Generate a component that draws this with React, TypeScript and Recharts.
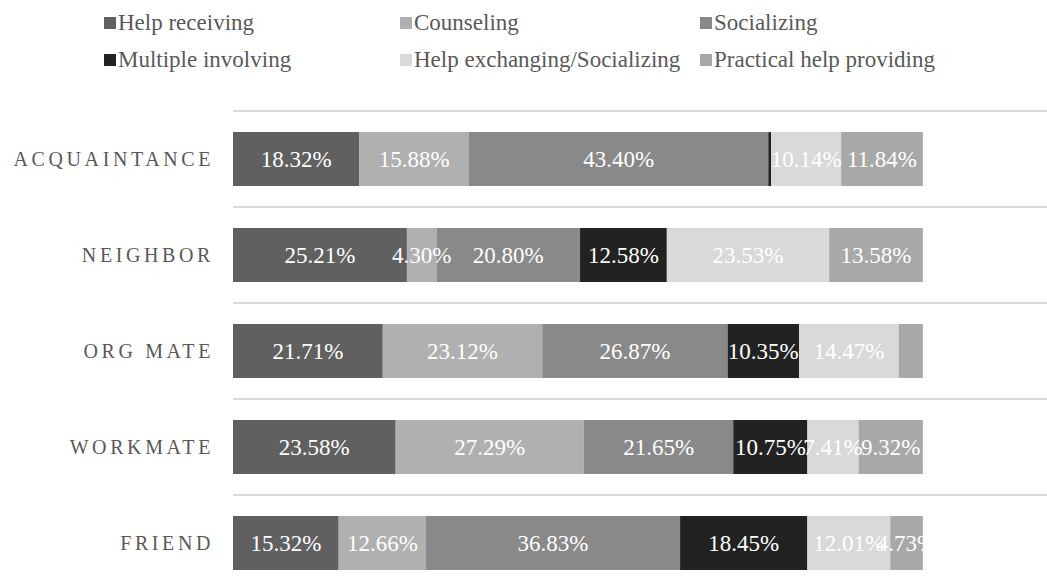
import React from 'react';
import { BarChart, Bar, XAxis, YAxis, CartesianGrid, LabelList } from 'recharts';

const categories = ['ACQUAINTANCE', 'NEIGHBOR', 'ORG MATE', 'WORKMATE', 'FRIEND'];
const helpReceiving = [18.32, 25.21, 21.71, 23.58, 15.32];
const counseling = [15.88, 4.3, 23.12, 27.29, 12.66];
const socializing = [43.4, 20.8, 26.87, 21.65, 36.83];
const multipleInvolving = [0.42, 12.58, 10.35, 10.75, 18.45];
const helpExchanging = [10.14, 23.53, 14.47, 7.41, 12.01];
const practicalHelp = [11.84, 13.58, 3.48, 9.32, 4.73];

const seriesNames = [
  'Help receiving',
  'Counseling',
  'Socializing',
  'Multiple involving',
  'Help exchanging/Socializing',
  'Practical help providing',
];
const seriesValues = [helpReceiving, counseling, socializing, multipleInvolving, helpExchanging, practicalHelp];
const colors = ['#606060', '#b0b0b0', '#898989', '#222222', '#d9d9d9', '#a8a8a8'];
const keys = ['s0', 's1', 's2', 's3', 's4', 's5'];

const data = categories.map((c, i) => {
  const row: any = { name: c };
  keys.forEach((k, j) => {
    row[k] = seriesValues[j][i];
  });
  return row;
});

const FONT = "'Liberation Serif', 'Times New Roman', serif";

// grid lines at category band boundaries
const bandBoundaries = ({ offset }: any) =>
  Array.from({ length: categories.length + 1 }, (_, t) => offset.top + (offset.height * t) / categories.length);

const renderLabel = (props: any) => {
  const { x, y, width, height, value } = props;
  if (value == null || value < 4) return null;
  return (
    <text
      x={Number(x) + Number(width) / 2}
      y={Number(y) + Number(height) / 2}
      textAnchor="middle"
      dominantBaseline="central"
      fill="#ffffff"
      fontFamily="Liberation Serif"
      style={{ fontFamily: FONT }}
      fontSize={23}
    >
      {Number(value).toFixed(2) + '%'}
    </text>
  );
};

const legendCols = [104, 400, 700];

export default function App() {
  return (
    <div style={{ position: 'absolute', left: 0, top: 0, width: 1047, height: 600, background: '#fff' }}>
      {seriesNames.map((n, i) => (
        <div
          key={n}
          style={{
            position: 'absolute',
            left: legendCols[i % 3],
            top: i < 3 ? 10 : 47,
            display: 'flex',
            alignItems: 'center',
            fontFamily: FONT,
            fontSize: 23,
            color: '#595959',
            whiteSpace: 'nowrap',
            lineHeight: '26px',
          }}
        >
          <span style={{ display: 'inline-block', width: 12, height: 12, background: colors[i], marginRight: 2 }} />
          {n}
        </div>
      ))}
      <div style={{ position: 'absolute', left: 0, top: 0 }}>
        <BarChart
          width={1047}
          height={600}
          data={data}
          layout="vertical"
          barCategoryGap="22%"
          margin={{ top: 111, right: 0, bottom: 9, left: 0 }}
        >
          <CartesianGrid
            vertical={false}
            stroke="#d9d9d9"
            strokeWidth={2}
            horizontalCoordinatesGenerator={bandBoundaries}
          />
          <XAxis type="number" domain={[0, 118]} hide allowDataOverflow />
          <YAxis
            type="category"
            dataKey="name"
            width={233}
            axisLine={false}
            tickLine={false}
            tickSize={0}
            tickMargin={19}
            tick={{ fontSize: 20, fill: '#595959', fontFamily: FONT, letterSpacing: 3.6 }}
          />
          {keys.map((k, j) => (
            <Bar key={k} dataKey={k} stackId="a" fill={colors[j]} isAnimationActive={false}>
              <LabelList dataKey={k} content={renderLabel} />
            </Bar>
          ))}
        </BarChart>
      </div>
    </div>
  );
}
